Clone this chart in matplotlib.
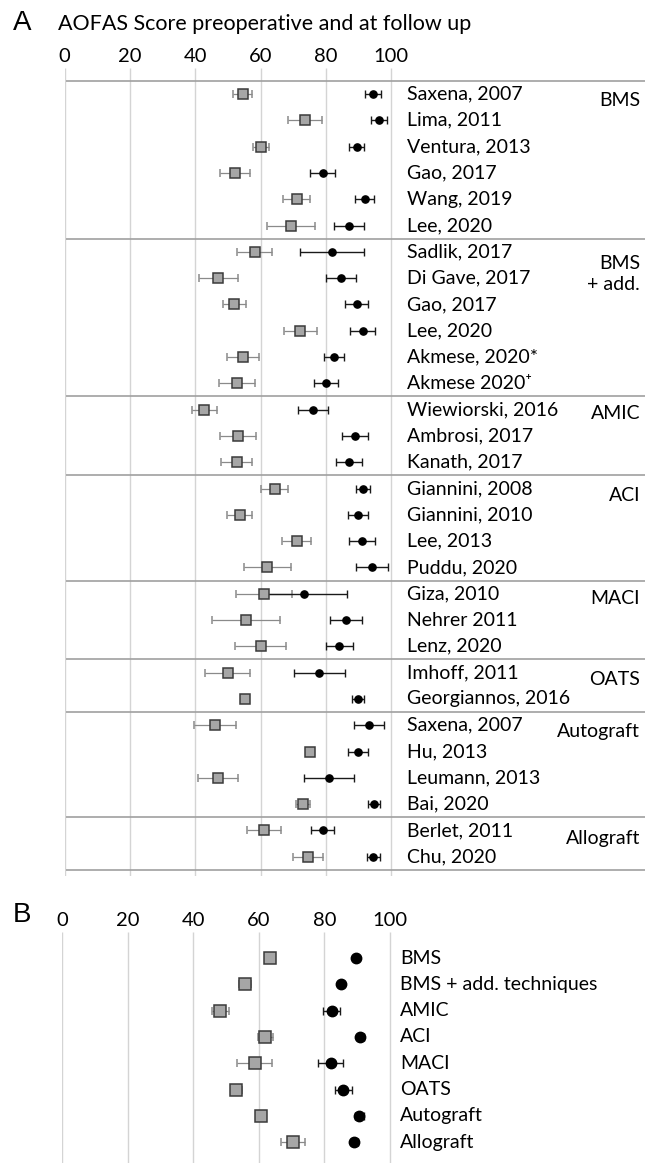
import matplotlib
matplotlib.use("Agg")
import matplotlib.pyplot as plt
import numpy as np

# panel A: individual studies (mean and SD)
studies = ["Saxena, 2007", "Lima, 2011", "Ventura, 2013", "Gao, 2017", "Wang, 2019", "Lee, 2020",
           "Sadlik, 2017", "Di Gave, 2017", "Gao, 2017", "Lee, 2020", "Akmese, 2020*", "Akmese 2020\u207a",
           "Wiewiorski, 2016", "Ambrosi, 2017", "Kanath, 2017",
           "Giannini, 2008", "Giannini, 2010", "Lee, 2013", "Puddu, 2020",
           "Giza, 2010", "Nehrer 2011", "Lenz, 2020",
           "Imhoff, 2011", "Georgiannos, 2016",
           "Saxena, 2007", "Hu, 2013", "Leumann, 2013", "Bai, 2020",
           "Berlet, 2011", "Chu, 2020"]
pre_mean = [54.5, 73.6, 60.1, 52.2, 71.1, 69.4,
            58.2, 47.1, 52.0, 72.2, 54.6, 52.9,
            42.8, 53.0, 52.7,
            64.3, 53.6, 71.0, 62.0,
            61.0, 55.5, 60.0,
            49.9, 55.2,
            46.0, 75.0, 47.0, 72.9,
            61.0, 74.5]
pre_sd = [3.0, 5.1, 2.5, 4.5, 4.1, 7.4,
          5.3, 6.0, 3.6, 5.0, 4.9, 5.5,
          3.8, 5.5, 4.8,
          4.1, 3.9, 4.5, 7.2,
          8.6, 10.3, 7.7,
          7.0, 0.0,
          6.5, 0.0, 6.0, 2.1,
          5.2, 4.5]
post_mean = [94.5, 96.2, 89.4, 79.0, 91.8, 87.0,
             81.8, 84.5, 89.4, 91.2, 82.4, 80.1,
             76.1, 88.9, 87.1,
             91.3, 89.8, 91.0, 94.0,
             73.4, 86.1, 84.1,
             78.0, 89.8,
             93.2, 89.8, 81.0, 94.8,
             79.0, 94.5]
post_sd = [2.4, 2.4, 2.2, 3.9, 2.9, 4.5,
           9.7, 4.6, 3.6, 3.7, 3.0, 3.7,
           4.5, 4.0, 4.0,
           2.1, 3.1, 4.0, 4.9,
           13.0, 4.8, 4.2,
           7.8, 1.7,
           4.5, 3.0, 7.6, 1.8,
           3.5, 1.9]
group_names = ["BMS", "BMS\n+ add.", "AMIC", "ACI", "MACI", "OATS", "Autograft", "Allograft"]
group_sizes = [6, 6, 3, 4, 3, 2, 4, 2]
group_label_offset = [0.25, 0.85, 0.15, 0.25, 0.2, 0.25, 0.25, 0.3]

# panel B: pooled per technique
techniques = ["BMS", "BMS + add. techniques", "AMIC", "ACI", "MACI", "OATS", "Autograft", "Allograft"]
pool_pre = [63.4, 55.8, 48.3, 62.0, 58.8, 53.2, 60.6, 70.5]
pool_pre_sd = [1.3, 1.9, 2.6, 2.2, 5.3, 1.6, 1.0, 3.6]
pool_post = [89.6, 85.1, 82.2, 91.0, 82.0, 85.8, 90.7, 89.1]
pool_post_sd = [0.5, 0.8, 2.6, 1.2, 3.8, 2.7, 1.5, 1.0]

ticks = [0, 20, 40, 60, 80, 100]

W, H = 652, 1163
fig = plt.figure(figsize=(W / 100, H / 100), dpi=100)
FONT = ["Lato", "DejaVu Sans"]
FS = 14
GRID = "#d4d4d4"
SEP = "#a0a0a0"
SQ_FILL = "#a6a6a6"


def px_axes(left, right, top, bottom):
    return fig.add_axes([left / W, 1 - bottom / H, (right - left) / W, (bottom - top) / H])


def style(ax, xmax, ytop, ybot):
    ax.set_xlim(0, xmax)
    ax.set_ylim(ybot, ytop)
    for s in ax.spines.values():
        s.set_visible(False)
    ax.set_yticks([])
    ax.xaxis.tick_top()
    ax.set_xticks(ticks)
    ax.set_xticklabels([str(t) for t in ticks], fontsize=14.5, family=FONT)
    ax.tick_params(axis="x", length=0, pad=2)
    ax.vlines(ticks, ybot, ytop, color=GRID, lw=1.0, zorder=0)


def draw_points(ax, rows, pre, pre_e, post, post_e, sq, dot):
    ax.errorbar(pre, rows, xerr=pre_e, fmt="s", ms=sq, mfc=SQ_FILL, mec="#3a3a3a", mew=1.1,
                ecolor="#8a8a8a", elinewidth=0.9, capsize=3, capthick=0.9, zorder=3)
    ax.errorbar(post, rows, xerr=post_e, fmt="o", ms=dot, mfc="black", mec="black",
                ecolor="#1a1a1a", elinewidth=1.0, capsize=3, capthick=1.0, zorder=3)


# ---- panel A ----
x0, x100 = 64.5, 391.3
scale = (x100 - x0) / 100
row0, step = 94, 26.3
axA = px_axes(x0, 645, 68, 876)
xmaxA = (645 - x0) / scale
style(axA, xmaxA, (68 - row0) / step, (876 - row0) / step)

rows = np.arange(len(studies))
draw_points(axA, rows, pre_mean, pre_sd, post_mean, post_sd, 6.5, 5.2)

for r, name in zip(rows, studies):
    axA.text((407 - x0) / scale, r, name, fontsize=FS, family=FONT, va="center", ha="left")

edges = np.concatenate([[0], np.cumsum(group_sizes)])
axA.hlines(edges - 0.5, 0.5, xmaxA, color=SEP, lw=1.2, zorder=1)
for start, name, off in zip(edges[:-1], group_names, group_label_offset):
    axA.text((640 - x0) / scale, start + off, name, fontsize=FS, family=FONT,
             va="center", ha="right", multialignment="right", linespacing=1.3)

fig.text(13 / W, 1 - 23 / H, "A", fontsize=20, family="Liberation Sans", va="center", ha="left")
fig.text(58 / W, 1 - 24 / H, "AOFAS Score preoperative and at follow up", fontsize=15.5,
         family=FONT, va="center", ha="left")

# ---- panel B ----
b0, b100 = 62, 390
scaleB = (b100 - b0) / 100
rowB, stepB = 958, 26.3
axB = px_axes(b0, 645, 932, 1163)
style(axB, (645 - b0) / scaleB, (932 - rowB) / stepB, (1163 - rowB) / stepB)

rowsB = np.arange(len(techniques))
draw_points(axB, rowsB, pool_pre, pool_pre_sd, pool_post, pool_post_sd, 8, 7.5)
for r, name in zip(rowsB, techniques):
    axB.text((400 - b0) / scaleB, r, name, fontsize=FS, family=FONT, va="center", ha="left")

fig.text(13 / W, 1 - 915 / H, "B", fontsize=20, family="Liberation Sans", va="center", ha="left")

fig.savefig("out.png", dpi=100)
